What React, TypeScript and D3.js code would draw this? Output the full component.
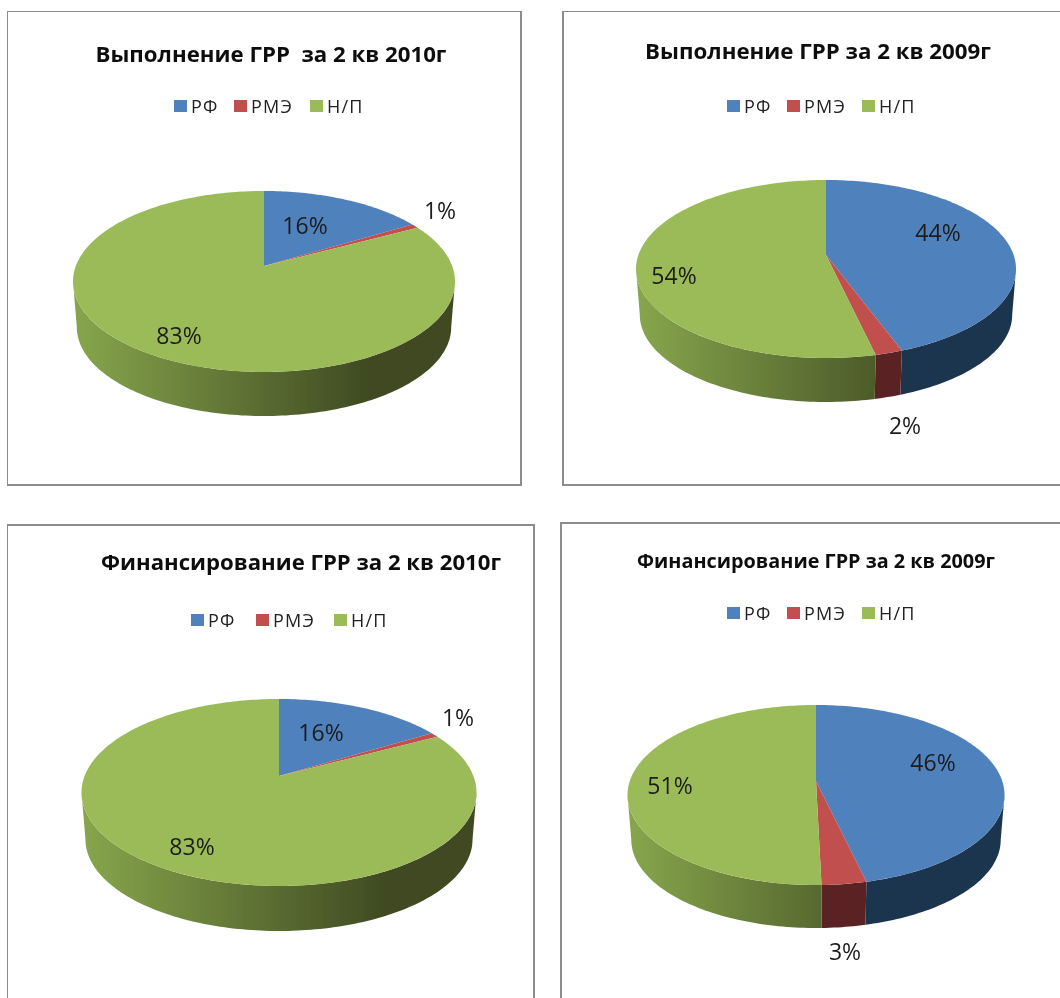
import React from 'react';
import * as d3 from 'd3';

const categories = ['РФ', 'РМЭ', 'Н/П'];
const colors = ['#4f81bd', '#c0504d', '#9bbb59'];
const sideColors = ['#1f3550', '#5a2422', null];

const titles = [
  'Выполнение ГРР  за 2 кв 2010г',
  'Выполнение ГРР за 2 кв 2009г',
  'Финансирование ГРР за 2 кв 2010г',
  'Финансирование ГРР за 2 кв 2009г',
];

// values carry one decimal because the slices are a bit off the rounded labels
const works2010 = [16.4, 0.8, 82.8];
const works2009 = [44.4, 2.0, 53.6];
const finance2010 = [16.4, 0.8, 82.8];
const finance2009 = [46.4, 3.3, 50.5];

const panels = [
  {
    id: 'a', values: works2010, title: titles[0],
    frame: [7, 11, 514, 474],
    titleX: 271, titleY: 53, titleW: 351, titleSize: 22,
    legendY: 106, legendX: [174, 234, 310],
    cx: 264, apexY: 266, rx: 191, top: 191, bottom: 372, depth: 44,
    labels: [[305, 225], [440, 210], [179, 335]],
  },
  {
    id: 'b', values: works2009, title: titles[1],
    frame: [563, 11, 520, 474],
    titleX: 818, titleY: 50, titleW: 346, titleSize: 22,
    legendY: 106, legendX: [727, 787, 862],
    cx: 826, apexY: 255, rx: 190, top: 180, bottom: 358, depth: 44,
    labels: [[938, 232], [905, 425], [674, 275]],
  },
  {
    id: 'c', values: finance2010, title: titles[2],
    frame: [7, 525, 527, 500],
    titleX: 301, titleY: 561, titleW: 400, titleSize: 22,
    legendY: 620, legendX: [191, 256, 334],
    cx: 279, apexY: 776, rx: 197.5, top: 699, bottom: 886, depth: 45,
    labels: [[321, 732], [458, 717], [192, 846]],
  },
  {
    id: 'd', values: finance2009, title: titles[3],
    frame: [561, 523, 520, 500],
    titleX: 816, titleY: 560, titleW: 358, titleSize: 19.5,
    legendY: 613, legendX: [727, 787, 862],
    cx: 816, apexY: 781, rx: 188.5, top: 705, bottom: 885, depth: 43,
    labels: [[933, 762], [845, 951], [670, 785]],
  },
];

const pie = d3.pie<number>().sort(null).value(d => d);
const line = d3.line();

function perspective(p: any) {
  const up = p.apexY - p.top;
  const down = p.bottom - p.apexY;
  return (down - up) / (down + up);
}

// circle -> screen with the perspective of an Excel 3-D pie
function projector(p: any) {
  const persp = perspective(p);
  const ky = (p.bottom - p.apexY) * (1 - persp);
  const kx = p.rx * Math.sqrt(1 - persp * persp);
  return (a: number, scale = 1, dy = 0): [number, number] => {
    const u = Math.sin(a);
    const v = -Math.cos(a);
    const den = 1 - persp * v;
    return [p.cx + (scale * kx * u) / den, p.apexY + dy + (scale * ky * v) / den];
  };
}

function arcPoints(project: any, a0: number, a1: number, scale = 1, dy = 0) {
  const n = Math.max(2, Math.ceil((a1 - a0) / 0.02));
  return d3.range(n + 1).map(i => project(a0 + ((a1 - a0) * i) / n, scale, dy));
}

const BOTTOM_SCALE = 0.98;

function PiePanel({ p }: { p: any }) {
  const project = projector(p);
  const slices = pie(p.values);
  const apex: [number, number] = [p.cx, p.apexY];
  const dy = p.depth + (p.bottom - p.apexY) * (1 - BOTTOM_SCALE);
  const [fx, fy, fw, fh] = p.frame;
  const gradId = 'side-' + p.id;
  const gradFrom = p.cx - p.rx;
  const gradTo = p.cx + p.rx * 0.55;
  // the wall is only seen between the left and right extremes of the ellipse
  const sideFrom = Math.acos(-perspective(p));
  const sideTo = 2 * Math.PI - sideFrom;

  return (
    <g>
      <rect x={fx} y={fy} width={fw} height={fh} fill="#fff" stroke="#8c8c8c" strokeWidth={2} />
      <text
        x={p.titleX} y={p.titleY} textAnchor="middle" dominantBaseline="central"
        fontFamily="'Open Sans', sans-serif" fontWeight={700} fontSize={p.titleSize} fill="#111"
        textLength={p.titleW} lengthAdjust="spacingAndGlyphs" style={{ whiteSpace: 'pre' }}
      >
        {p.title}
      </text>

      {categories.map((c, i) => (
        <g key={c}>
          <rect x={p.legendX[i]} y={p.legendY - 6} width={13} height={12} fill={colors[i]} />
          <text
            x={p.legendX[i] + 17} y={p.legendY} dominantBaseline="central"
            fontFamily="'Open Sans', sans-serif" fontSize={18} letterSpacing={1.2} fill="#222"
          >
            {c}
          </text>
        </g>
      ))}

      <defs>
        <linearGradient id={gradId} gradientUnits="userSpaceOnUse" x1={gradFrom} x2={gradTo} y1={0} y2={0}>
          <stop offset="0" stopColor="#87a64c" />
          <stop offset="1" stopColor="#3f4a22" />
        </linearGradient>
      </defs>

      {slices.map((s, i) => {
        const a0 = Math.max(s.startAngle, sideFrom);
        const a1 = Math.min(s.endAngle, sideTo);
        if (a1 <= a0) return null;
        const pts = [...arcPoints(project, a0, a1), ...arcPoints(project, a0, a1, BOTTOM_SCALE, dy).reverse()];
        return <path key={i} d={line(pts) + 'Z'} fill={sideColors[i] || `url(#${gradId})`} />;
      })}

      {slices.map((s, i) => {
        const pts = [apex, ...arcPoints(project, s.startAngle, s.endAngle)];
        return <path key={i} d={line(pts) + 'Z'} fill={colors[i]} />;
      })}

      {slices.map((s, i) => (
        <text
          key={i} x={p.labels[i][0]} y={p.labels[i][1]} textAnchor="middle" dominantBaseline="central"
          fontFamily="'Open Sans', sans-serif" fontSize={23} fill="#1c1c1c"
        >
          {Math.round(s.value)}%
        </text>
      ))}
    </g>
  );
}

export default function App() {
  return (
    <svg width={1060} height={998} style={{ position: 'absolute', left: 0, top: 0, background: '#fff' }}>
      <defs>
        <filter id="soft" x="0" y="0" width="100%" height="100%">
          <feGaussianBlur stdDeviation="0.45" />
        </filter>
      </defs>
      <g filter="url(#soft)">
        {panels.map(p => <PiePanel key={p.id} p={p} />)}
      </g>
    </svg>
  );
}
